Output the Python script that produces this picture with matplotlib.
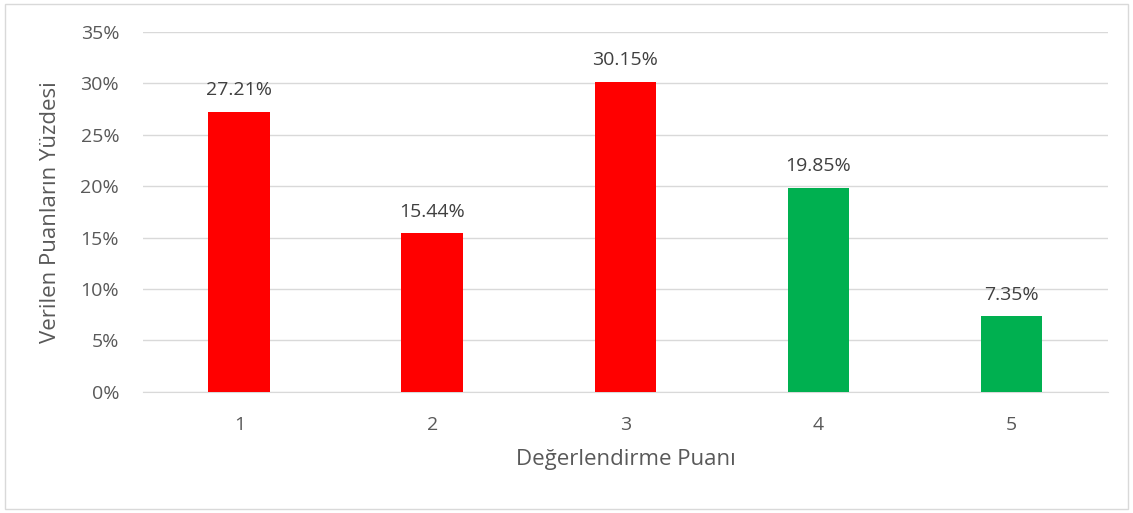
import matplotlib
matplotlib.use("Agg")
import matplotlib.pyplot as plt
from matplotlib.patches import Rectangle

# data
categories = ["1", "2", "3", "4", "5"]
values = [27.21, 15.44, 30.15, 19.85, 7.35]
bar_colors = ["#FF0000", "#FF0000", "#FF0000", "#00B050", "#00B050"]
y_ticks = [0, 5, 10, 15, 20, 25, 30, 35]

TXT = "#595959"
plt.rcParams["font.family"] = ["Open Sans", "DejaVu Sans"]

fig = plt.figure(figsize=(11.33, 5.13), dpi=100)
ax = fig.add_axes([0.126, 0.236, 0.852, 0.702])

x = list(range(1, len(categories) + 1))
ax.bar(x, values, width=0.32, color=bar_colors, zorder=3)
for xi, v in zip(x, values):
    ax.annotate(f"{v:.2f}%", (xi, v), xytext=(0, 9), textcoords="offset points",
                ha="center", va="bottom", fontsize=14, color="#404040")

ax.set_xlim(0.5, 5.5)
ax.set_ylim(0, 35)
ax.set_yticks(y_ticks)
ax.set_yticklabels([f"{t}%" for t in y_ticks])
ax.set_xticks(x)
ax.set_xticklabels(categories)
ax.tick_params(length=0, labelsize=14, colors=TXT)
ax.tick_params(axis="x", pad=17)
ax.tick_params(axis="y", pad=17)
ax.grid(axis="y", color="#D9D9D9", linewidth=1, zorder=0)
for s in ["top", "right", "left"]:
    ax.spines[s].set_visible(False)
ax.spines["bottom"].set_color("#D9D9D9")

ax.set_xlabel("Değerlendirme Puanı", fontsize=16, color=TXT, labelpad=11)
ax.set_ylabel("Verilen Puanların Yüzdesi", fontsize=16, color=TXT, labelpad=14)

fig.patches.append(Rectangle((0.004, 0.008), 0.992, 0.984, transform=fig.transFigure,
                             fill=False, edgecolor="#D9D9D9", linewidth=1))

fig.savefig("out.png", dpi=100)
